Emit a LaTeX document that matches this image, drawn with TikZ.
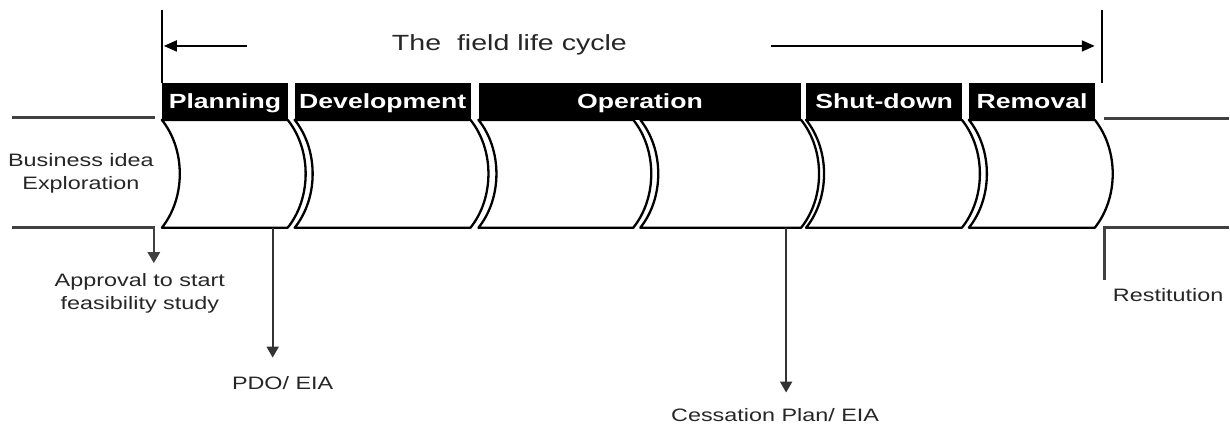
\documentclass[tikz,border=0pt]{standalone}
\usepackage{fontspec}
\setmainfont{Liberation Sans}[FakeStretch=1.3]
\usetikzlibrary{arrows.meta}

\tikzset{
  phase/.style={fill=black, text=white, anchor=west, inner sep=0pt,
    minimum height=37pt, text height=15pt, text depth=0pt,
    font=\fontsize{20.5}{24}\selectfont\bfseries},
  note/.style={align=center, inner sep=1pt, text=black!85,
    font=\fontsize{18}{23}\selectfont},
  stage/.style={line width=2.3pt, line join=round},
  rail/.style={line width=2.8pt, black!75},
  pointer/.style={-{Triangle[width=12pt,length=11pt]}, line width=1.9pt, black!80},
}

\begin{document}
\begin{tikzpicture}[x=1pt, y=-1pt, >={Triangle[width=11pt,length=13pt]}]

  \fill[white] (0,0) rectangle (1230,430);

  % Draw the bounds of the life cycle
  \coordinate (start top) at (162,10);
  \coordinate (start) at (162,83);
  \coordinate (end top) at (1103,10);
  \coordinate (end) at (1103,83);
  \draw[line width=1.9pt] (start top) -- (start);
  \draw[line width=1.9pt] (end top) -- (end);

  % Title and its arrows
  \node[note, anchor=base, font=\fontsize{22}{26}\selectfont] (title) at (510,51) {The~ field life cycle};
  \coordinate (left tail) at (247,46);
  \coordinate (right tail) at (772,46);
  \draw[->, line width=1.8pt, shorten >=2pt] (left tail) -- (left tail -| start);
  \draw[->, line width=1.8pt, shorten >=7pt] (right tail) -- (right tail -| end);

  % Draw the stages
  \foreach \xl/\xr in {162/288, 295/471, 479/634, 641/802, 807/963, 970/1096}
    \draw[stage] (\xl,120) -- (\xr,120) .. controls (\xr+24,150) and (\xr+24,198) .. (\xr,228)
      -- (\xl,228) .. controls (\xl+24,198) and (\xl+24,150) .. (\xl,120) -- cycle;

  % Phase headers
  \foreach \xl/\xr/\name/\txt in {162/288/plan/Planning, 295/471/dev/Development,
      479/802/op/Operation, 807/963/shut/Shut-down, 970/1096/rem/Removal}
    \node[phase, minimum width=\xr pt-\xl pt] (\name) at (\xl,101.5) {\txt};

  % Rails before and after the field
  \draw[rail] (12,118) -- (155,118);
  \draw[rail] (1105,119) -- (1230,119);
  \coordinate (before) at (12,228);
  \coordinate (after) at (1230,228);
  \coordinate (appr mark) at (154,228);
  \coordinate (pdo mark) at (273,228);
  \coordinate (cess mark) at (787,228);
  \coordinate (rest mark) at (1106,228);

  % Notes
  \node[note, anchor=north] (idea) at (81,152.5) {Business idea\\Exploration};
  \node[note, anchor=north] (appr) at (140,272.5) {Approval to start\\feasibility study};
  \node[note, anchor=north] (pdo) at (283,376) {PDO/ EIA};
  \node[note, anchor=north] (cess) at (776,408) {Cessation Plan/ EIA};
  \node[note, anchor=north west] (rest) at (1113,288) {Restitution};

  % Milestones
  \draw[rail, pointer, black!75, line width=2.6pt, shorten >=9pt] (before) -| (appr.north -| appr mark);
  \draw[pointer, shorten >=18pt] (pdo mark) -- (pdo mark |- pdo.north);
  \draw[pointer, shorten >=15pt] (cess mark) -- (cess mark |- cess.north);
  \draw[rail, shorten >=8pt] (after) -| (rest.north -| rest mark);

\end{tikzpicture}
\end{document}
